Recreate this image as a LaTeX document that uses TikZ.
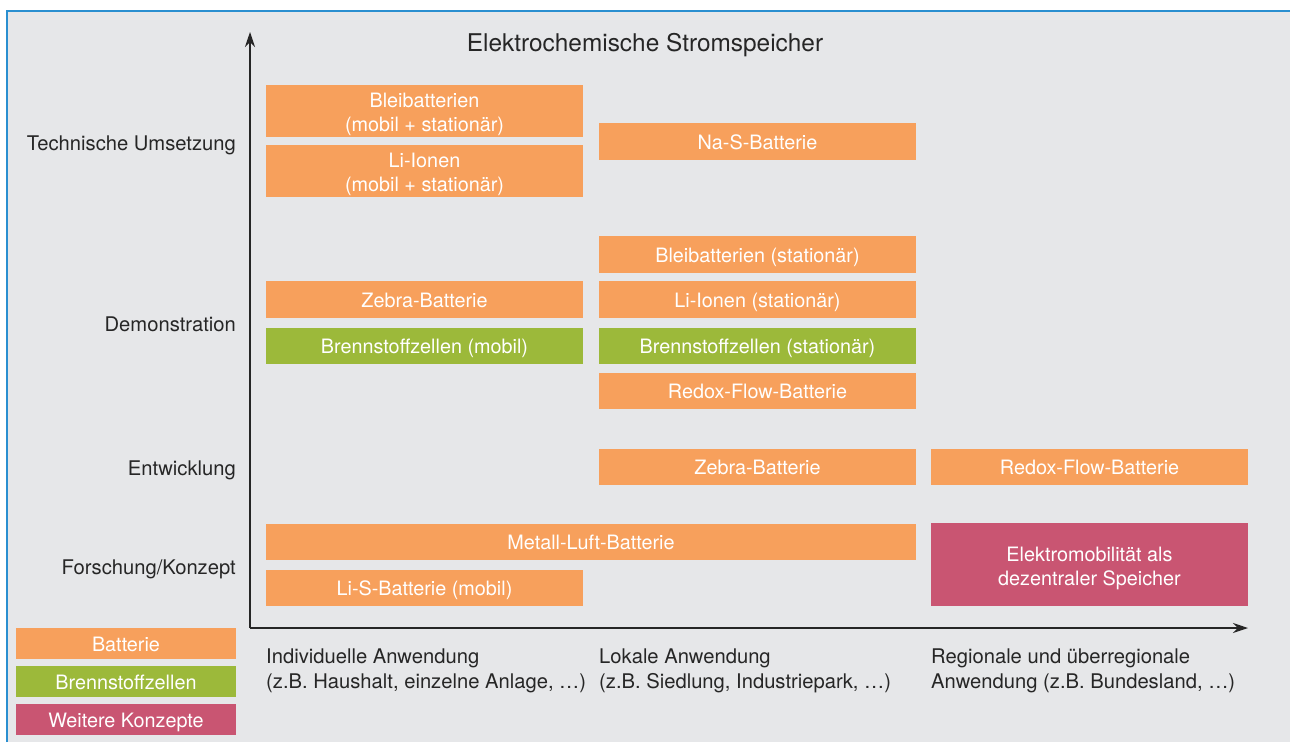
\documentclass[tikz,border=0pt]{standalone}
\usepackage{fontspec}
\setmainfont{TeX Gyre Heros}
\usetikzlibrary{arrows.meta}
\definecolor{batorange}{HTML}{F7A05C}
\definecolor{bzgreen}{HTML}{9CB93A}
\definecolor{konzpink}{HTML}{C95572}
\definecolor{bggray}{HTML}{E6E7E9}
\definecolor{framblue}{HTML}{2A8FD0}
\definecolor{labgray}{HTML}{262626}
\begin{document}
\begin{tikzpicture}
[x=1pt,y=-1pt,
  box/.style={shape=rectangle,inner sep=0pt,text=white,align=center,
    minimum width=317pt,minimum height=37pt,text height=15pt,text depth=0pt,
    font=\fontsize{19.8}{24.3}\selectfont},%
  twoline/.style={text height=41.6pt},%
  batbox/.style={box,fill=batorange},%
  bzbox/.style={box,fill=bzgreen},%
  konzbox/.style={box,fill=konzpink},%
  legbox/.style={minimum width=220pt,minimum height=31pt},%
  axislabel/.style={text=labgray,inner sep=0pt,font=\fontsize{20.2}{25}\selectfont},%
  axisdecorate/.style={draw=labgray,line width=1.2pt,-{Stealth[length=15pt,width=10pt]}}]
% background and frame
\useasboundingbox (0,0) rectangle (1290,742);
\fill[bggray] (7,11) rectangle (1290,742);
\draw[framblue,line width=2pt] (7,742) -- (7,11) -- (1290,11);
% axes
\coordinate (origin) at (250,628);
\coordinate (ytip) at (250,32);
\coordinate (xtip) at (1248,628);
\path
(origin) edge[axisdecorate] (ytip)
(origin) edge[axisdecorate] (xtip);
\node (title) at (645,51.6) [axislabel,anchor=base,font=\fontsize{24.4}{28}\selectfont] {Elektrochemische Stromspeicher};
% vertical axis labels
\node (umsetzung) at (236,150.2) [axislabel,anchor=base east] {Technische Umsetzung};
\node (demo) at (236,331.2) [axislabel,anchor=base east] {Demonstration};
\node (entw) at (236,475.2) [axislabel,anchor=base east] {Entwicklung};
\node (forsch) at (236,574.2) [axislabel,anchor=base east] {Forschung/Konzept};
% horizontal axis labels
\node (indiv) at (266,649) [axislabel,anchor=north west,align=left] {Individuelle Anwendung\\(z.B. Haushalt, einzelne Anlage, \dots)};
\node (lokal) at (599,649) [axislabel,anchor=north west,align=left] {Lokale Anwendung\\(z.B. Siedlung, Industriepark, \dots)};
\node (region) at (931,649) [axislabel,anchor=north west,align=left] {Regionale und überregionale\\Anwendung (z.B. Bundesland, \dots)};
% technische Umsetzung
\node (bleiA) at (424.5,111) [batbox,twoline,minimum height=52pt] {Bleibatterien\\(mobil + stationär)};
\node (liA) at (424.5,171) [batbox,twoline,minimum height=52pt] {Li-Ionen\\(mobil + stationär)};
\node (nas) at (757.5,141.5) [batbox] {Na-S-Batterie};
% Demonstration
\node (bleiB) at (757.5,254.5) [batbox] {Bleibatterien (stationär)};
\node (liB) at (757.5,299.5) [batbox] {Li-Ionen (stationär)};
\node (zebraA) at (424.5,299.5) [batbox] {Zebra-Batterie};
\node (bzA) at (424.5,346) [bzbox,minimum height=36pt] {Brennstoffzellen (mobil)};
\node (bzB) at (757.5,346) [bzbox,minimum height=36pt] {Brennstoffzellen (stationär)};
\node (redoxA) at (757.5,391) [batbox,minimum height=36pt] {Redox-Flow-Batterie};
% Entwicklung
\node (zebraB) at (757.5,467) [batbox,minimum height=36pt] {Zebra-Batterie};
\node (redoxB) at (1089.5,467) [batbox,minimum height=36pt] {Redox-Flow-Batterie};
% Forschung/Konzept
\node (metall) at (591,542) [batbox,minimum width=650pt,minimum height=36pt] {Metall-Luft-Batterie};
\node (lis) at (424.5,588) [batbox,minimum height=36pt] {Li-S-Batterie (mobil)};
\node (elektro) at (1089.5,564.5) [konzbox,twoline,minimum height=83pt] {Elektromobilität als\\dezentraler Speicher};
% legend
\node (legbat) at (126,643.5) [batbox,legbox] {Batterie};
\node (legbz) at (126,681.5) [bzbox,legbox] {Brennstoffzellen};
\node (legkonz) at (126,719.5) [konzbox,legbox] {Weitere Konzepte};
\end{tikzpicture}
\end{document}
